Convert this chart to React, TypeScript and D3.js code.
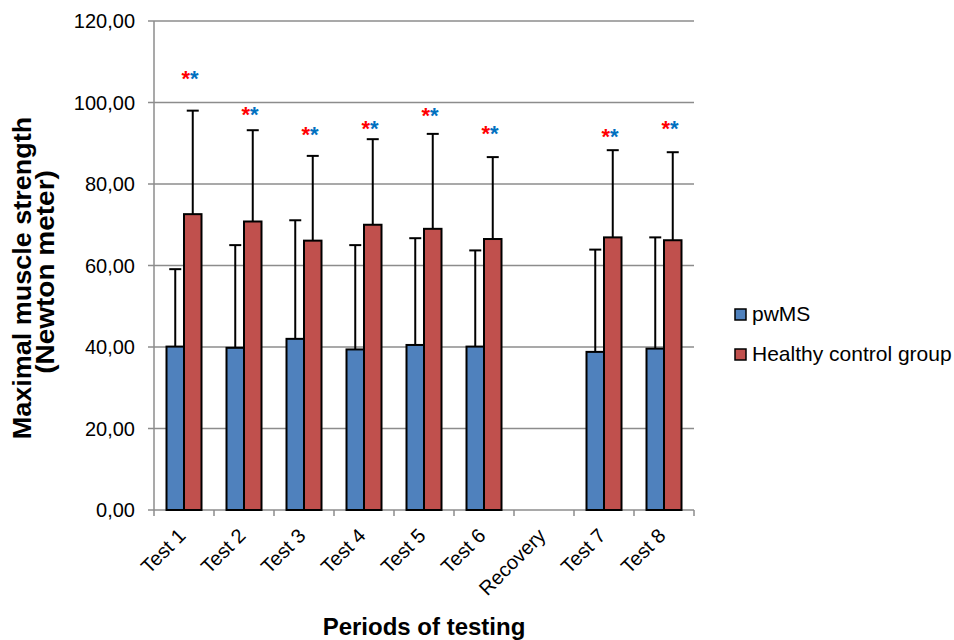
import React from "react";
import * as d3 from "d3";

const categories = ["Test 1", "Test 2", "Test 3", "Test 4", "Test 5", "Test 6", "Recovery", "Test 7", "Test 8"];
const seriesNames = ["pwMS", "Healthy control group"];
const pwMS: (number | null)[] = [40.1, 39.8, 42.0, 39.4, 40.5, 40.1, null, 38.8, 39.6];
const pwMSSd: (number | null)[] = [19.0, 25.2, 29.1, 25.6, 26.2, 23.6, null, 25.1, 27.3];
const healthy: (number | null)[] = [72.6, 70.8, 66.1, 70.0, 69.0, 66.5, null, 66.9, 66.2];
const healthySd: (number | null)[] = [25.4, 22.4, 20.8, 21.0, 23.3, 20.1, null, 21.4, 21.6];
const starLevels: (number | null)[] = [106.7, 98.0, 93.0, 94.5, 97.7, 93.3, null, 92.6, 94.5];
const yTicks = [0, 20, 40, 60, 80, 100, 120];
const colors = ["#4F81BD", "#C0504D"];

const W = 954, H = 640;
const left = 154, right = 694, top = 21, bottom = 510;
const font = "Liberation Sans, Arial, sans-serif";

export default function App() {
  const x = d3.scaleBand<string>().domain(categories).range([left, right]).paddingInner(0).paddingOuter(0);
  const y = d3.scaleLinear().domain([0, 120]).range([bottom, top]);
  const barW = 17.5;
  const fmt = (v: number) => v.toFixed(2).replace(".", ",");
  const series = [
    { vals: pwMS, sd: pwMSSd },
    { vals: healthy, sd: healthySd },
  ];
  return (
    <svg width={W} height={H} style={{ position: "absolute", left: 0, top: 0 }} fontFamily={font}>
      <rect width={W} height={H} fill="#fff" />
      {yTicks.map((t) => (
        <g key={t}>
          <line x1={left - 6} x2={right} y1={y(t)} y2={y(t)} stroke="#8c8c8c" strokeWidth={1.5} />
          <text x={135} y={y(t)} dy="0.35em" textAnchor="end" fontSize={20} fill="#000">{fmt(t)}</text>
        </g>
      ))}
      <line x1={left} x2={left} y1={top} y2={bottom} stroke="#8c8c8c" strokeWidth={1.5} />
      {categories.map((c, i) => (
        <line key={"tk" + i} x1={x(c)!} x2={x(c)!} y1={bottom} y2={bottom + 6} stroke="#8c8c8c" strokeWidth={1.5} />
      ))}
      <line x1={right} x2={right} y1={bottom} y2={bottom + 6} stroke="#8c8c8c" strokeWidth={1.5} />
      {categories.map((c, i) => {
        const cx = x(c)! + x.bandwidth() / 2;
        return (
          <g key={c}>
            {series.map((s, k) => {
              const v = s.vals[i];
              const sd = s.sd[i];
              if (v == null) return null;
              const bx = cx - barW + k * barW;
              const ex = bx + barW / 2;
              return (
                <g key={k}>
                  <line x1={ex} x2={ex} y1={y(v)} y2={y(v + (sd ?? 0))} stroke="#000" strokeWidth={2} />
                  <line x1={ex - 6} x2={ex + 6} y1={y(v + (sd ?? 0))} y2={y(v + (sd ?? 0))} stroke="#000" strokeWidth={2} />
                  <rect x={bx} y={y(v)} width={barW} height={y(0) - y(v)} fill={colors[k]} stroke="#000" strokeWidth={2} />
                </g>
              );
            })}
            {starLevels[i] != null && (
              <text x={cx + 6} y={y(starLevels[i]!)} dy="0.5em" textAnchor="middle" fontSize={22} fontWeight="bold">
                <tspan fill="#FF0000">*</tspan>
                <tspan fill="#0070C0">*</tspan>
              </text>
            )}
            <text
              transform={`translate(${cx - 2},${bottom + 22}) rotate(-45)`}
              textAnchor="end"
              dy="0.35em"
              fontSize={20}
            >
              {c}
            </text>
          </g>
        );
      })}
      <text transform={`translate(31,278) rotate(-90) scale(1.08,1)`} textAnchor="middle" fontSize={25} fontWeight="bold">Maximal muscle strength</text>
      <text transform={`translate(54,272) rotate(-90) scale(1.12,1)`} textAnchor="middle" fontSize={25} fontWeight="bold">(Newton meter)</text>
      <text x={424} y={635} textAnchor="middle" fontSize={24} fontWeight="bold">Periods of testing</text>
      {seriesNames.map((n, k) => (
        <g key={n}>
          <rect x={735} y={309 + k * 40} width={11} height={11} fill={colors[k]} stroke="#000" strokeWidth={1.5} />
          <text x={752} y={314.5 + k * 40} dy="0.33em" fontSize={21}>{n}</text>
        </g>
      ))}
    </svg>
  );
}
